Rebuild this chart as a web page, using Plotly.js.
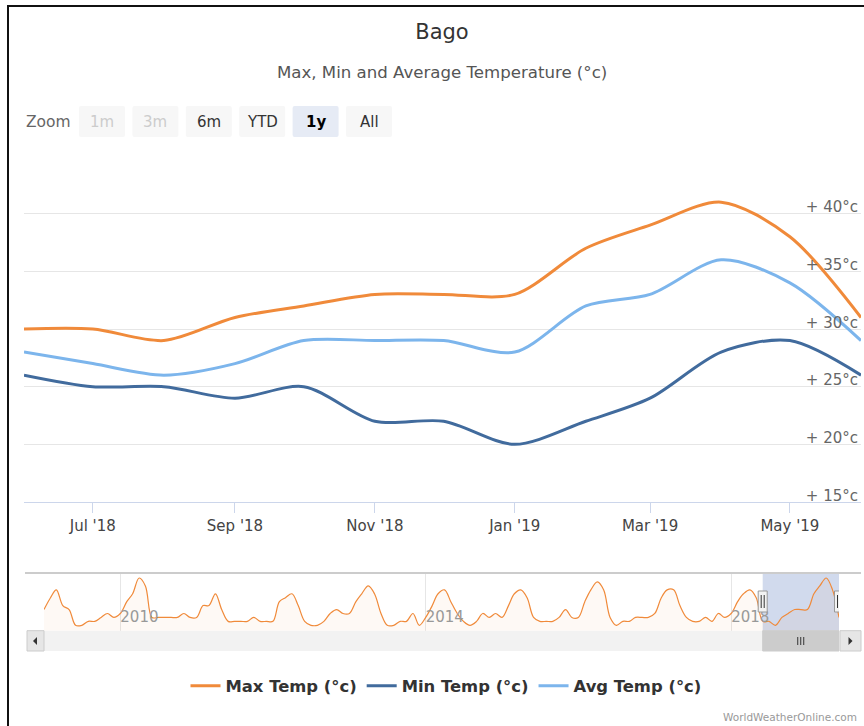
<!DOCTYPE html>
<html>
<head>
<meta charset="utf-8">
<script src="https://cdn.plot.ly/plotly-3.0.1.min.js"></script>
<style>
  html, body { margin: 0; padding: 0; background: #ffffff; }
  #chart { width: 864px; height: 726px; }
</style>
</head>
<body>
<div id="chart"></div>
<script>
// ---------------- DATA ----------------
const months = ['2018-06-01','2018-07-01','2018-08-01','2018-09-01','2018-10-01','2018-11-01','2018-12-01',
                '2019-01-01','2019-02-01','2019-03-01','2019-04-01','2019-05-01','2019-06-01'];
const maxTemp = [30, 30, 29, 31, 32, 33, 33, 33, 37, 39, 41, 38, 31];
const minTemp = [26, 25, 25, 24, 25, 22, 22, 20, 22, 24, 28, 29, 26];
const avgTemp = [28, 27, 26, 27, 29, 29, 29, 28, 32, 33, 36, 34, 29];

// navigator history of Max Temp, monthly from Jan 2009 to May 2018
const navStartYear = 2009;
const navHistory = [
  33, 36, 38, 34, 33, 29, 29, 30, 30, 31, 32, 31,   // 2009
  32, 35, 37, 41, 39, 31, 31, 31, 31, 31, 32, 31,   // 2010
  31, 34, 34, 37, 33, 30, 30, 30, 30, 31, 30, 30,   // 2011
  30, 35, 36, 37, 34, 30, 29, 29, 30, 32, 33, 32,   // 2012
  32, 35, 37, 39, 37, 32, 29, 29, 30, 30, 32, 29,   // 2013
  31, 34, 37, 38, 35, 32, 30, 29, 30, 32, 31, 32,   // 2014
  31, 34, 37, 38, 36, 31, 30, 30, 30, 31, 33, 31,   // 2015
  31, 35, 38, 40, 38, 31, 29, 30, 30, 31, 31, 31,   // 2016
  32, 36, 38, 38, 34, 31, 30, 30, 31, 30, 32, 31,   // 2017
  32, 35, 37, 38, 36                                // 2018 (Jan-May)
];

const seriesNames = ['Max Temp (°c)', 'Min Temp (°c)', 'Avg Temp (°c)'];
const yTickVals = [15, 20, 25, 30, 35, 40, 45];
const yTickText = ['+ 15°c', '+ 20°c', '+ 25°c', '+ 30°c', '+ 35°c', '+ 40°c', ''];
const zoomButtons = ['1m', '3m', '6m', 'YTD', '1y', 'All'];
const zoomState   = ['disabled', 'disabled', 'normal', 'normal', 'selected', 'normal'];

// ---------------- BUILD ----------------
const navMax = navHistory.concat(maxTemp);
const navDates = [];
for (let i = 0; i < navMax.length; i++) {
  const y = navStartYear + Math.floor(i / 12);
  const m = (i % 12) + 1;
  navDates.push(y + '-' + String(m).padStart(2, '0') + '-01');
}

const W = 864, H = 726;
const px = x => x / W;
const py = y => 1 - y / H;

const FONT = 'DejaVu Sans, Verdana, sans-serif';
const cMax = '#f08a3a', cMin = '#416b9d', cAvg = '#7cb5ec';

const lineStyle = (c) => ({ color: c, width: 3, shape: 'spline', smoothing: 0.85 });

const traces = [
  { x: months, y: maxTemp, name: seriesNames[0], type: 'scatter', mode: 'lines', line: lineStyle(cMax), xaxis: 'x', yaxis: 'y', hoverinfo: 'skip' },
  { x: months, y: minTemp, name: seriesNames[1], type: 'scatter', mode: 'lines', line: lineStyle(cMin), xaxis: 'x', yaxis: 'y', hoverinfo: 'skip' },
  { x: months, y: avgTemp, name: seriesNames[2], type: 'scatter', mode: 'lines', line: lineStyle(cAvg), xaxis: 'x', yaxis: 'y', hoverinfo: 'skip' },
  { x: navDates, y: navMax, type: 'scatter', mode: 'lines', showlegend: false,
    line: { color: cMax, width: 1.2, shape: 'spline', smoothing: 1 },
    fill: 'tozeroy', fillcolor: 'rgba(240,138,58,0.05)', xaxis: 'x2', yaxis: 'y2', hoverinfo: 'skip' }
];

const selStart = months[0], selEnd = months[months.length - 1];
const selMid = new Date((Date.parse(selStart) + Date.parse(selEnd)) / 2).toISOString().slice(0, 10);

function rrect(x0, y0, x1, y1, r) {
  const X = v => px(v).toFixed(5), Y = v => py(v).toFixed(5);
  return 'M' + X(x0 + r) + ',' + Y(y0) + ' L' + X(x1 - r) + ',' + Y(y0) +
         ' Q' + X(x1) + ',' + Y(y0) + ' ' + X(x1) + ',' + Y(y0 + r) +
         ' L' + X(x1) + ',' + Y(y1 - r) +
         ' Q' + X(x1) + ',' + Y(y1) + ' ' + X(x1 - r) + ',' + Y(y1) +
         ' L' + X(x0 + r) + ',' + Y(y1) +
         ' Q' + X(x0) + ',' + Y(y1) + ' ' + X(x0) + ',' + Y(y1 - r) +
         ' L' + X(x0) + ',' + Y(y0 + r) +
         ' Q' + X(x0) + ',' + Y(y0) + ' ' + X(x0 + r) + ',' + Y(y0) + ' Z';
}

const shapes = [];
const annotations = [];

// outer border (left + top)
shapes.push({ type: 'line', xref: 'paper', yref: 'paper', x0: px(8), x1: px(8), y0: py(5), y1: py(726), line: { color: '#111', width: 2 } });
shapes.push({ type: 'line', xref: 'paper', yref: 'paper', x0: px(7), x1: px(864), y0: py(6), y1: py(6), line: { color: '#111', width: 2 } });

// zoom buttons
const btnX0 = 79, btnW = 46, btnGap = 7.4, btnTop = 106, btnBot = 137;
zoomButtons.forEach((lab, i) => {
  const x0 = btnX0 + i * (btnW + btnGap);
  const st = zoomState[i];
  shapes.push({ type: 'path', xref: 'paper', yref: 'paper', path: rrect(x0, btnTop, x0 + btnW, btnBot, 2),
    fillcolor: st === 'selected' ? '#e6ebf5' : '#f7f7f7', line: { width: 0 } });
  annotations.push({ xref: 'paper', yref: 'paper', x: px(x0 + btnW / 2), y: py((btnTop + btnBot) / 2),
    xanchor: 'center', yanchor: 'middle', showarrow: false, text: st === 'selected' ? '<b>' + lab + '</b>' : lab,
    font: { family: FONT, size: 15, color: st === 'disabled' ? '#cccccc' : (st === 'selected' ? '#000' : '#333') } });
});
annotations.push({ xref: 'paper', yref: 'paper', x: px(24), y: py(122), xanchor: 'left', yanchor: 'middle',
  showarrow: false, text: 'Zoom', font: { family: FONT, size: 15.5, color: '#666' } });

// subtitle
annotations.push({ xref: 'paper', yref: 'paper', x: px(442), y: py(73), xanchor: 'center', yanchor: 'middle',
  showarrow: false, text: 'Max, Min and Average Temperature (°c)', font: { family: FONT, size: 16.6, color: '#555' } });

// watermark
annotations.push({ xref: 'paper', yref: 'paper', x: px(859), y: py(717), xanchor: 'right', yanchor: 'middle',
  showarrow: false, text: 'WorldWeatherOnline.com', font: { family: FONT, size: 10.5, color: '#999' } });

// navigator outline
const navTop = 574, navBot = 630.7, sbBot = 651;
shapes.push({ type: 'line', xref: 'paper', yref: 'paper', x0: px(25), x1: px(861), y0: py(573), y1: py(573), line: { color: '#cccccc', width: 2 } });
// selected mask
shapes.push({ type: 'rect', xref: 'x2', yref: 'paper', x0: selStart, x1: selEnd, y0: py(navTop), y1: py(navBot),
  fillcolor: 'rgba(102,133,194,0.3)', line: { width: 0 }, layer: 'below' });
// scrollbar track
shapes.push({ type: 'rect', xref: 'paper', yref: 'paper', x0: px(27), x1: px(861), y0: py(navBot), y1: py(sbBot),
  fillcolor: '#f2f2f2', line: { width: 0 } });
// scrollbar thumb
shapes.push({ type: 'rect', xref: 'x2', yref: 'paper', x0: selStart, x1: selEnd, y0: py(navBot), y1: py(sbBot),
  fillcolor: '#cccccc', line: { color: '#cccccc', width: 1 } });
// thumb rifles
[-3, 0, 3].forEach(d => {
  shapes.push({ type: 'line', xref: 'x2', yref: 'paper', xsizemode: 'pixel', xanchor: selMid, x0: d, x1: d,
    y0: py(637), y1: py(645), line: { color: '#333', width: 1 } });
});
// scrollbar buttons
shapes.push({ type: 'rect', xref: 'paper', yref: 'paper', x0: px(27), x1: px(44), y0: py(navBot), y1: py(sbBot),
  fillcolor: '#e6e6e6', line: { color: '#cccccc', width: 1 } });
shapes.push({ type: 'rect', xref: 'paper', yref: 'paper', x0: px(840), x1: px(861), y0: py(navBot), y1: py(sbBot),
  fillcolor: '#e6e6e6', line: { color: '#cccccc', width: 1 } });
shapes.push({ type: 'path', xref: 'paper', yref: 'paper',
  path: 'M' + px(37) + ',' + py(637) + ' L' + px(37) + ',' + py(645) + ' L' + px(33) + ',' + py(641) + ' Z',
  fillcolor: '#333', line: { width: 0 } });
shapes.push({ type: 'path', xref: 'paper', yref: 'paper',
  path: 'M' + px(848.5) + ',' + py(637) + ' L' + px(848.5) + ',' + py(645) + ' L' + px(852.5) + ',' + py(641) + ' Z',
  fillcolor: '#333', line: { width: 0 } });
// handles
[selStart, selEnd].forEach(d => {
  shapes.push({ type: 'rect', xref: 'x2', yref: 'paper', xsizemode: 'pixel', xanchor: d, x0: -4.5, x1: 4.5,
    y0: py(591), y1: py(612), fillcolor: '#f2f2f2', line: { color: '#999', width: 1 } });
  [-1.5, 1.5].forEach(o => {
    shapes.push({ type: 'line', xref: 'x2', yref: 'paper', xsizemode: 'pixel', xanchor: d, x0: o, x1: o,
      y0: py(595), y1: py(608), line: { color: '#333', width: 1 } });
  });
});

// main plot: gridline for 15 sits at 502 px, domain extended a few px below so its label is not clipped
const plotTop = 156, plot15 = 502, plotBottomPad = 10;
const pxPerDeg = (plot15 - plotTop) / 30;
const yMinExt = 15 - plotBottomPad / pxPerDeg;

const layout = {
  width: W, height: H,
  margin: { l: 0, r: 0, t: 0, b: 0 },
  paper_bgcolor: '#ffffff', plot_bgcolor: 'rgba(0,0,0,0)',
  font: { family: FONT, color: '#333' },
  title: { text: 'Bago', font: { family: FONT, size: 21, color: '#333' }, x: px(442), xanchor: 'center',
           y: py(32), yanchor: 'middle', xref: 'paper', yref: 'paper' },
  showlegend: true,
  legend: { orientation: 'h', x: px(446), xanchor: 'center', y: py(686), yanchor: 'middle',
            font: { family: FONT, size: 16.4, color: '#333', weight: 'bold' }, itemwidth: 30, bgcolor: 'rgba(0,0,0,0)' },
  hovermode: false,
  xaxis: {
    type: 'date', domain: [px(24), px(861)], range: [selStart, selEnd], anchor: 'free', position: py(plot15),
    tickformat: "%b '%y", dtick: 'M2', tick0: '2018-07-01', ticks: 'outside', ticklen: 10, tickcolor: '#ccd6eb', tickwidth: 1,
    showline: true, linecolor: '#ccd6eb', linewidth: 1, showgrid: false, zeroline: false,
    tickfont: { family: FONT, size: 15, color: '#444' }, fixedrange: true
  },
  yaxis: {
    domain: [py(plot15 + plotBottomPad), py(plotTop)], range: [yMinExt, 45], anchor: 'x', side: 'right',
    tickmode: 'array', tickvals: yTickVals, ticktext: yTickText, ticklabelposition: 'inside top',
    ticklabelshift: 4,
    showgrid: true, gridcolor: '#e6e6e6', gridwidth: 1, zeroline: false, showline: false, ticks: '',
    tickfont: { family: FONT, size: 15, color: '#666' }, fixedrange: true
  },
  xaxis2: {
    type: 'date', domain: [px(44), px(839)], range: [navDates[0], navDates[navDates.length - 1]], anchor: 'y2',
    tick0: '2010-01-01', dtick: 'M48', tickformat: '%Y', ticklabelposition: 'inside right', ticks: '',
    showgrid: true, gridcolor: '#e6e6e6', gridwidth: 1, showline: false, zeroline: false,
    tickfont: { family: FONT, size: 15, color: '#999' }, fixedrange: true
  },
  yaxis2: {
    domain: [py(navBot), py(navTop)], range: [27.63, 42.02], anchor: 'x2',
    visible: false, fixedrange: true
  },
  shapes: shapes,
  annotations: annotations
};

Plotly.newPlot('chart', traces, layout, { displayModeBar: false, staticPlot: true });
</script>
</body>
</html>
